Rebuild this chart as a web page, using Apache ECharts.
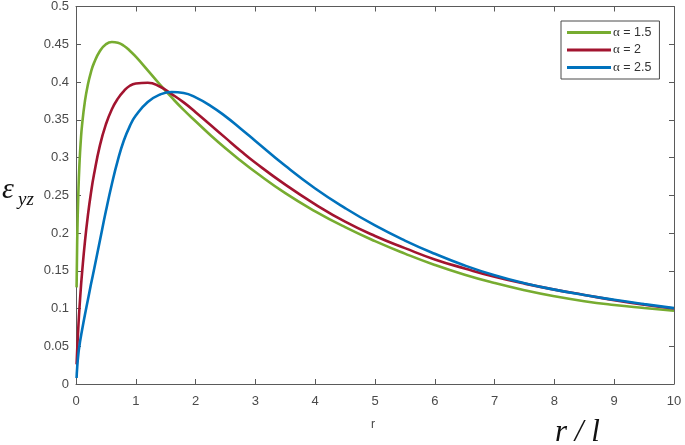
<!DOCTYPE html>
<html>
<head>
<meta charset="utf-8">
<script src="https://cdn.jsdelivr.net/npm/echarts@6/dist/echarts.min.js"></script>
<style>html,body{margin:0;padding:0;background:#fff}#c{width:685px;height:445px}</style>
</head>
<body>
<div id="c"></div>
<script>
var rValues = [0.01, 0.02, 0.04, 0.06, 0.08, 0.1, 0.15, 0.2, 0.25, 0.3, 0.4, 0.5, 0.6, 0.7, 0.8, 0.9, 1.0, 1.2, 1.4, 1.6, 1.8, 2.0, 2.25, 2.5, 2.75, 3.0, 3.5, 4.0, 4.5, 5.0, 5.5, 6.0, 6.5, 7.0, 7.5, 8.0, 8.5, 9.0, 9.5, 10.0];
var alpha15 = [0.128, 0.19, 0.255, 0.295, 0.322, 0.342, 0.375, 0.397, 0.413, 0.425, 0.441, 0.450, 0.453, 0.452, 0.448, 0.4415, 0.4335, 0.4155, 0.397, 0.3795, 0.363, 0.348, 0.3295, 0.3122, 0.296, 0.2807, 0.2527, 0.2287, 0.2077, 0.1892, 0.1727, 0.1577, 0.1447, 0.1337, 0.1242, 0.1162, 0.1097, 0.1047, 0.1007, 0.097];
var alpha2 = [0.026, 0.045, 0.077, 0.103, 0.126, 0.146, 0.189, 0.224, 0.253, 0.277, 0.316, 0.344, 0.364, 0.378, 0.388, 0.395, 0.398, 0.399, 0.394, 0.384, 0.373, 0.360, 0.343, 0.326, 0.309, 0.293, 0.264, 0.238, 0.215, 0.196, 0.180, 0.165, 0.153, 0.142, 0.133, 0.125, 0.118, 0.111, 0.105, 0.100];
var alpha25 = [0.008, 0.022, 0.040, 0.052, 0.062, 0.071, 0.092, 0.112, 0.132, 0.151, 0.190, 0.229, 0.265, 0.2965, 0.3225, 0.3415, 0.3555, 0.3735, 0.3832, 0.3868, 0.3855, 0.3797, 0.3685, 0.3545, 0.3385, 0.322, 0.289, 0.259, 0.233, 0.210, 0.190, 0.1725, 0.157, 0.144, 0.1335, 0.125, 0.1178, 0.1115, 0.1058, 0.1005];
var seriesNames = ['α = 1.5', 'α = 2', 'α = 2.5'];
var seriesColors = ['#77AC30', '#A2142F', '#0072BD'];
var yTicks = [0, 0.05, 0.1, 0.15, 0.2, 0.25, 0.3, 0.35, 0.4, 0.45, 0.5];

function pairs(ys) { return rValues.map(function (r, i) { return [r, ys[i]]; }); }
var allSeries = [alpha15, alpha2, alpha25];

var axisColor = '#5a5a5a';
var labelColor = '#4a4a4a';
var chart = echarts.init(document.getElementById('c'), null, {renderer: 'canvas'});
chart.setOption({
  animation: false,
  backgroundColor: '#fff',
  grid: {left: 76, right: 11, top: 6, bottom: 61, containLabel: false},
  xAxis: [{
    type: 'value', min: 0, max: 10, interval: 1, position: 'bottom',
    axisLine: {show: true, lineStyle: {color: axisColor, width: 1}},
    axisTick: {show: true, inside: true, length: 5, lineStyle: {color: axisColor}},
    axisLabel: {color: labelColor, fontSize: 13, fontFamily: 'Liberation Sans, Arial, sans-serif', margin: 11},
    splitLine: {show: false}
  }, {
    type: 'value', min: 0, max: 10, interval: 1, position: 'top',
    axisLine: {show: true, onZero: false, lineStyle: {color: axisColor, width: 1}},
    axisTick: {show: true, inside: true, length: 5, lineStyle: {color: axisColor}},
    axisLabel: {show: false}, splitLine: {show: false}
  }],
  yAxis: [{
    type: 'value', min: 0, max: 0.5, interval: 0.05, position: 'left',
    axisLine: {show: true, lineStyle: {color: axisColor, width: 1}},
    axisTick: {show: true, inside: true, length: 5, lineStyle: {color: axisColor}},
    axisLabel: {color: labelColor, fontSize: 13, fontFamily: 'Liberation Sans, Arial, sans-serif', margin: 7,
      formatter: function (v) { var best = yTicks.reduce(function (a, b) { return Math.abs(b - v) < Math.abs(a - v) ? b : a; }); return String(best); }},
    splitLine: {show: false}
  }, {
    type: 'value', min: 0, max: 0.5, interval: 0.05, position: 'right',
    axisLine: {show: true, onZero: false, lineStyle: {color: axisColor, width: 1}},
    axisTick: {show: true, inside: true, length: 5, lineStyle: {color: axisColor}},
    axisLabel: {show: false}, splitLine: {show: false}
  }],
  legend: {
    orient: 'vertical', left: 561, top: 21, width: 100,
    padding: [5, 8, 5, 6], itemGap: 4.5, itemWidth: 44, itemHeight: 3,
    backgroundColor: '#fff', borderColor: '#4a4a4a', borderWidth: 1,
    icon: 'rect',
    data: seriesNames,
    formatter: function (n) { return '{a|α}{t|' + n.slice(1) + '}'; },
    textStyle: {
      padding: [0, 0, 0, -3],
      rich: {
        a: {fontFamily: 'Liberation Serif, Times New Roman, serif', fontSize: 13, color: '#333', lineHeight: 14},
        t: {fontFamily: 'Liberation Sans, Arial, sans-serif', fontSize: 12.5, color: '#333', lineHeight: 14}
      }
    }
  },
  series: allSeries.map(function (ys, i) {
    return {
      name: seriesNames[i], type: 'line', xAxisIndex: 0, yAxisIndex: 0,
      data: pairs(ys), showSymbol: false, smooth: 0.5,
      lineStyle: {color: seriesColors[i], width: 2.6},
      itemStyle: {color: seriesColors[i]}
    };
  }),
  graphic: [
    {type: 'text', left: 371, top: 419, style: {text: 'r', fontSize: 12, fontFamily: 'Liberation Sans, Arial, sans-serif', fill: '#444'}},
    {type: 'text', left: 555, top: 417, style: {text: 'r / l', fontSize: 31, fontStyle: 'italic', fontFamily: 'Liberation Serif, Times New Roman, serif', fill: '#111'}},
    {type: 'text', left: 2, top: 175, style: {text: 'ε', fontSize: 30, fontStyle: 'italic', fontFamily: 'Liberation Serif, Times New Roman, serif', fill: '#111'}},
    {type: 'text', left: 18, top: 190, style: {text: 'yz', fontSize: 19, fontStyle: 'italic', fontFamily: 'Liberation Serif, Times New Roman, serif', fill: '#111'}}
  ]
});
</script>
</body>
</html>
